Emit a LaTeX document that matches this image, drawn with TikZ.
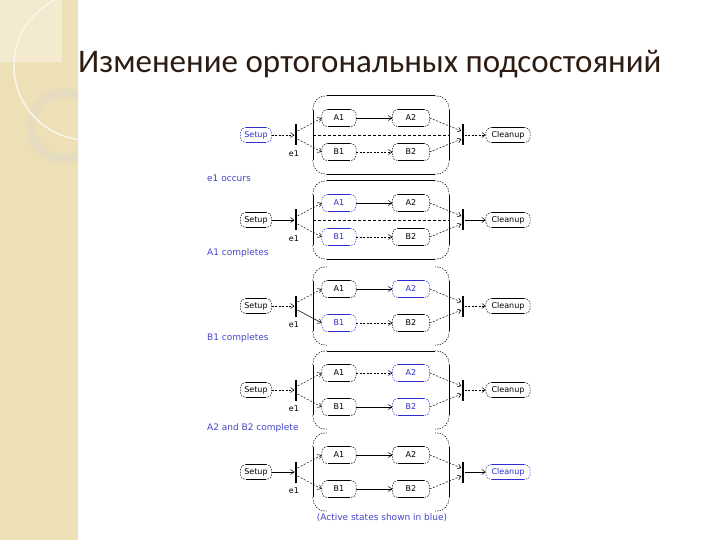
\documentclass[tikz,border=0pt]{standalone}
\usepackage{fontspec}
\setmainfont{DejaVu Sans}
\newfontfamily\titlefont{Carlito}
\usetikzlibrary{arrows.meta,calc}
\definecolor{stblue}{RGB}{45,45,205}
\definecolor{lblblue}{RGB}{70,70,200}
\definecolor{strip}{RGB}{237,224,183}
\definecolor{stripLight}{RGB}{243,234,207}
\definecolor{ringcol}{RGB}{230,221,193}
\definecolor{titlecol}{RGB}{45,28,18}

\newcommand\stbox[7]{%
  \node[st, minimum width=#5, minimum height=#6, #7] (#1) at (#2,#3) {#4};
  \draw[#7, line width=0.5pt] ([xshift=6pt]#1.north west) -- ([xshift=-6pt]#1.north east)
    ([xshift=6pt]#1.south west) -- ([xshift=-6pt]#1.south east);
  \draw[#7, line width=0.5pt, dpat, rounded corners=5.5pt]
    ([xshift=6pt]#1.north west) -- (#1.north west) -- (#1.south west) -- ([xshift=6pt]#1.south west)
    ([xshift=-6pt]#1.north east) -- (#1.north east) -- (#1.south east) -- ([xshift=-6pt]#1.south east);
}

\newcommand\panel[2]{%
  \node[minimum width=136pt, minimum height=78pt, inner sep=0pt] (#1S) at (381,#2) {};
  \draw[sL] ([yshift=-14pt]#1S.north west) -- ([yshift=14pt]#1S.south west);
  \draw[sL] ([yshift=-14pt]#1S.north east) -- ([yshift=14pt]#1S.south east);
  \draw[sTop] ([xshift=14pt]#1S.north west) -- ([xshift=-14pt]#1S.north east);
  \draw[sBot] ([xshift=14pt]#1S.south west) -- ([xshift=-14pt]#1S.south east);
  \draw[edgeD, rounded corners=13pt]
    ([yshift=-14pt]#1S.north west) -- (#1S.north west) -- ([xshift=14pt]#1S.north west)
    ([yshift=-14pt]#1S.north east) -- (#1S.north east) -- ([xshift=-14pt]#1S.north east)
    ([yshift=14pt]#1S.south west) -- (#1S.south west) -- ([xshift=14pt]#1S.south west)
    ([yshift=14pt]#1S.south east) -- (#1S.south east) -- ([xshift=-14pt]#1S.south east);
  \draw[sDiv] (#1S.west) -- (#1S.east);
  \stbox{#1s}{256}{#2}{Setup}{31pt}{15pt}{cS}
  \stbox{#1A1}{339}{#2-17}{A1}{34pt}{17pt}{cA1}
  \stbox{#1A2}{411}{#2-17}{A2}{37pt}{17pt}{cA2}
  \stbox{#1B1}{339}{#2+17}{B1}{34pt}{17pt}{cB1}
  \stbox{#1B2}{411}{#2+17}{B2}{37pt}{17pt}{cB2}
  \stbox{#1c}{508}{#2}{Cleanup}{44pt}{15pt}{cC}
  \node[bar] (#1f) at (296,#2) {};
  \node[bar] (#1j) at (463,#2) {};
  \node[font=\fontsize{8}{9}\selectfont, inner sep=0pt] (#1e) at (294,#2+19) {e1};
  \draw[tSF] (#1s) -- (#1f);
  \draw[tFA] ([yshift=4pt]#1f.east) -- (#1A1.west);
  \draw[tFB] ([yshift=-4pt]#1f.east) -- (#1B1.west);
  \draw[tAA] (#1A1) -- (#1A2);
  \draw[tBB] (#1B1) -- (#1B2);
  \draw[tAJ] (#1A2.east) -- ([yshift=4pt]#1j.west);
  \draw[tBJ] (#1B2.east) -- ([yshift=-4pt]#1j.west);
  \draw[tJC] (#1j) -- (#1c);
}

\begin{document}
\begin{tikzpicture}[x=1pt,y=-1pt,
  dpat/.style={dash pattern=on 1.5pt off 1.2pt},
  st/.style={font=\fontsize{8}{9}\selectfont, inner sep=0pt},
  bar/.style={fill=black, draw=none, minimum width=2.8pt, minimum height=21pt, inner sep=0pt},
  tS/.style={line width=0.55pt, -{Straight Barb[length=3.5pt,width=5pt]}},
  tD/.style={line width=0.5pt, dash pattern=on 2pt off 1.5pt, -{Straight Barb[length=3.5pt,width=5pt]}},
  edgeS/.style={line width=0.6pt},
  edgeD/.style={line width=0.5pt, dpat},
  lbl/.style={font=\fontsize{9}{10}\selectfont, text=lblblue, anchor=west, inner sep=0pt},
  sL/.style={edgeS},
  blk/.style={color=black}, blu/.style={color=stblue}]
\useasboundingbox (0,0) rectangle (720,540);
\fill[white] (0,0) rectangle (720,540);
\fill[strip] (0,0) rectangle (78,540);
\begin{scope}
  \clip (0,0) rectangle (78,540);
  \fill[stripLight] (0,0) rectangle (62,62);
  \draw[ringcol, line width=9pt] (64,126) circle[radius=33];
  \draw[white!70!strip, line width=1.5pt] (88,66) circle[radius=74];
\end{scope}
\node[anchor=base west, font=\titlefont\fontsize{33}{33}\selectfont, text=titlecol, inner sep=0pt] (title) at (78,73) {Изменение ортогональных подсостояний};

% Panel 1
\tikzset{cS/.style=blu, cA1/.style=blk, cA2/.style=blk, cB1/.style=blk, cB2/.style=blk, cC/.style=blk,
  tSF/.style=tD, tFA/.style=tD, tFB/.style=tD, tAA/.style=tS, tBB/.style=tD, tAJ/.style=tD, tBJ/.style=tD, tJC/.style=tD,
  sTop/.style=edgeS, sBot/.style=edgeS, sDiv/.style={line width=0.6pt, dash pattern=on 3pt off 2pt}}
\panel{p1}{135}
\node[lbl] (l1) at (207,178) {e1 occurs};

% Panel 2
\tikzset{cS/.style=blk, cA1/.style=blu, cA2/.style=blk, cB1/.style=blu, cB2/.style=blk, cC/.style=blk,
  tSF/.style=tS, tFA/.style=tD, tFB/.style=tD, tAA/.style=tS, tBB/.style=tD, tAJ/.style=tD, tBJ/.style=tD, tJC/.style=tS}
\panel{p2}{220}
\node[lbl] (l2) at (207,253) {A1 completes};

% Panel 3
\tikzset{cS/.style=blk, cA1/.style=blk, cA2/.style=blu, cB1/.style=blu, cB2/.style=blk, cC/.style=blk,
  tSF/.style=tD, tFA/.style=tD, tFB/.style=tS, tAA/.style=tS, tBB/.style=tD, tAJ/.style=tD, tBJ/.style=tD, tJC/.style=tD,
  sTop/.style={draw=none}, sBot/.style={draw=none}, sDiv/.style={draw=none}}
\panel{p3}{306}
\node[lbl] (l3) at (207,338) {B1 completes};

% Panel 4
\tikzset{cS/.style=blk, cA1/.style=blk, cA2/.style=blu, cB1/.style=blk, cB2/.style=blu, cC/.style=blk,
  tSF/.style=tD, tFA/.style=tD, tFB/.style=tD, tAA/.style=tD, tBB/.style=tS, tAJ/.style=tD, tBJ/.style=tD, tJC/.style=tD,
  sTop/.style=edgeS, sBot/.style={draw=none}, sDiv/.style={draw=none}}
\panel{p4}{390}
\node[lbl] (l4) at (207,428) {A2 and B2 complete};

% Panel 5
\tikzset{cS/.style=blk, cA1/.style=blk, cA2/.style=blk, cB1/.style=blk, cB2/.style=blk, cC/.style=blu,
  tSF/.style=tS, tFA/.style=tD, tFB/.style=tD, tAA/.style=tS, tBB/.style=tS, tAJ/.style=tD, tBJ/.style=tD, tJC/.style=tS,
  sTop/.style={draw=none}, sBot/.style={draw=none}, sDiv/.style={draw=none}}
\panel{p5}{472}
\node[lbl, anchor=center] (l5) at (382,518) {(Active states shown in blue)};
\end{tikzpicture}
\end{document}
